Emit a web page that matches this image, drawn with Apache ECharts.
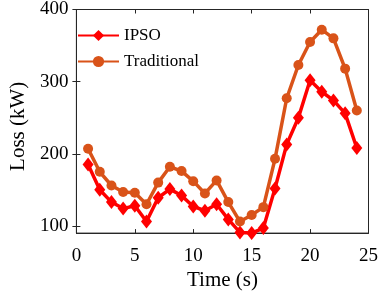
<!DOCTYPE html>
<html>
<head>
<meta charset="utf-8">
<script src="https://cdn.jsdelivr.net/npm/echarts@6/dist/echarts.min.js"></script>
<style>
    html, body { margin: 0; padding: 0; background: #fff; }
    #loss { width: 381px; height: 296px; }
</style>
</head>
<body>
<div id="loss"></div>
<script>
var time = [1, 2, 3, 4, 5, 6, 7, 8, 9, 10, 11, 12, 13, 14, 15, 16, 17, 18, 19, 20, 21, 22, 23, 24];
var ipso = [185, 150, 133, 124, 128, 106, 139, 151, 142, 127, 121, 130, 109, 91, 90, 97, 152, 213, 250, 302, 286, 274, 256, 208];
var traditional = [207, 175, 156, 147, 146, 130, 160, 182, 176, 162, 145, 163, 133, 106, 115, 126, 193, 277, 323, 355, 372, 360, 318, 260];
var yTicks = [100, 200, 300, 400];

function pairs(xs, ys) {
    var out = [];
    for (var i = 0, l = xs.length; i < l; i++) {
        out.push([xs[i], ys[i]]);
    }
    return out;
}

var axisColor = '#262626';
var serif = '"Liberation Serif", "DejaVu Serif", serif';

var chart = echarts.init(document.getElementById('loss'));

var option = {
    animation: false,
    textStyle: { fontFamily: serif },
    grid: {
        left: 65,
        right: 11,
        top: 7,
        bottom: 58,
        show: true,
        borderColor: axisColor,
        borderWidth: 1
    },
    legend: {
        orient: 'vertical',
        left: 72,
        top: 22,
        itemWidth: 41,
        itemHeight: 14,
        itemGap: 9,
        data: ['IPSO', 'Traditional'],
        textStyle: { fontFamily: serif, fontSize: 17, color: '#000' }
    },
    xAxis: [
        {
            type: 'value',
            min: 0,
            max: 25,
            interval: 5,
            name: 'Time (s)',
            nameLocation: 'middle',
            nameGap: 35,
            nameTextStyle: { fontFamily: serif, fontSize: 21, color: '#000' },
            axisLine: { lineStyle: { color: axisColor } },
            axisTick: { inside: true, length: 4, lineStyle: { color: axisColor } },
            axisLabel: { margin: 13, fontFamily: serif, fontSize: 19, color: '#000' },
            splitLine: { show: false }
        },
        {
            type: 'value',
            position: 'top',
            min: 0,
            max: 25,
            interval: 5,
            axisLine: { lineStyle: { color: axisColor } },
            axisTick: { inside: true, length: 4, lineStyle: { color: axisColor } },
            axisLabel: { show: false },
            splitLine: { show: false }
        }
    ],
    yAxis: [
        {
            type: 'value',
            min: 90,
            max: 400,
            name: 'Loss (kW)',
            nameLocation: 'middle',
            nameGap: 45,
            nameTextStyle: { fontFamily: serif, fontSize: 21, color: '#000', padding: [0, 10, 0, 0] },
            axisLine: { show: true, lineStyle: { color: axisColor } },
            axisTick: { inside: true, length: 4, customValues: yTicks, lineStyle: { color: axisColor } },
            axisLabel: { margin: 8, customValues: yTicks, fontFamily: serif, fontSize: 19, color: '#000' },
            splitLine: { show: false }
        },
        {
            type: 'value',
            position: 'right',
            min: 90,
            max: 400,
            axisLine: { show: true, lineStyle: { color: axisColor } },
            axisTick: { inside: true, length: 4, customValues: yTicks, lineStyle: { color: axisColor } },
            axisLabel: { show: false },
            splitLine: { show: false }
        }
    ],
    series: [
        {
            name: 'IPSO',
            type: 'line',
            data: pairs(time, ipso),
            clip: false,
            symbol: 'diamond',
            symbolSize: [11, 14],
            color: '#ff0000',
            lineStyle: { width: 3.5, color: '#ff0000' },
            itemStyle: { color: '#ff0000' }
        },
        {
            name: 'Traditional',
            type: 'line',
            data: pairs(time, traditional),
            clip: false,
            symbol: 'circle',
            symbolSize: 10,
            color: '#d95319',
            lineStyle: { width: 3.5, color: '#d95319' },
            itemStyle: { color: '#d95319' }
        }
    ]
};
chart.setOption(option);
</script>
</body>
</html>
